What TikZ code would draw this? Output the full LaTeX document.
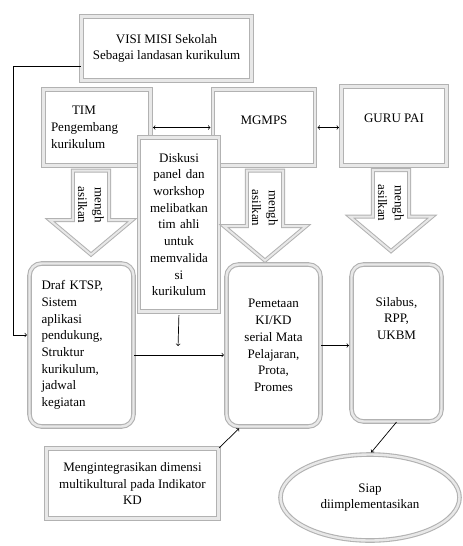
\documentclass[tikz,border=0pt]{standalone}
\usepackage{fontspec}
\setmainfont{Liberation Serif}
\usetikzlibrary{shapes.geometric,shapes.arrows}
\tikzstyle{frame} = [rectangle, draw=gray!60, double=gray!18, double distance=2.4pt,
                 line width=1.1pt, fill=white, align=center, inner sep=2pt]
\tikzstyle{rframe} = [frame, rounded corners=12pt]
\tikzstyle{hasil} = [single arrow, draw=gray!60, double=gray!18, double distance=2pt,
                 line width=1pt, fill=white, rotate=-90, align=center,
                 inner xsep=1pt, inner ysep=4pt, minimum width=82pt,
                 single arrow head extend=22pt, single arrow tip angle=100]
\tikzstyle{link} = [->, line width=0.7pt, shorten >=2pt]

\begin{document}
\begin{tikzpicture}[x=1pt, y=-1pt, font=\fontsize{13}{16.7}\selectfont]
\useasboundingbox (0,0) rectangle (463,546);

\node [frame, minimum width=170pt, minimum height=64pt] at (166.5,48.5) (visi)
	{VISI MISI Sekolah\\Sebagai landasan kurikulum};
\node [frame, minimum width=107pt, minimum height=76pt, text width=92pt, align=left]
	at (97,127.5) (tim) {\hspace*{21pt}TIM\\Pengembang\\kurikulum};
\node [frame, minimum width=102pt, minimum height=76pt, text height=10pt, text depth=17pt]
	at (264,127.5) (mgmps) {MGMPS};
\node [frame, minimum width=105pt, minimum height=79pt, text height=10pt, text depth=17pt]
	at (394,126) (guru) {GURU PAI};
\node [frame, minimum width=79pt, minimum height=174pt, text width=76pt]
	at (179,224.5) (diskusi)
	{Diskusi\\panel dan\\workshop\\melibatkan\\tim ahli\\untuk\\memvalida\\si\\kurikulum};

% hasil
\node [hasil, minimum height=84pt] at (91,205) (h1) {mengh\\asilkan};
\node [hasil, minimum height=90pt] at (265,208) (h2) {mengh\\asilkan};
\node [hasil, minimum height=81pt] at (391,203) (h3) {mengh\\asilkan};

\node [rframe, minimum width=104pt, minimum height=163pt, text width=80pt, align=left]
	at (81.5,345) (draf)
	{Draf KTSP,\\Sistem\\aplikasi\\pendukung,\\Struktur\\kurikulum,\\jadwal\\kegiatan};
\node [rframe, minimum width=94pt, minimum height=162pt] at (273.5,345.5) (pemetaan)
	{Pemetaan\\KI/KD\\serial Mata\\Pelajaran,\\Prota,\\Promes};
\node [rframe, minimum width=90pt, minimum height=157pt] at (396.5,343) (silabus)
	{\parbox[c][92pt][t]{80pt}{\centering Silabus,\\RPP,\\UKBM}};
\node [frame, minimum width=172pt, minimum height=70pt] at (132.5,483.5) (mengint)
	{Mengintegrasikan dimensi\\multikultural pada Indikator\\KD};
\node [ellipse, draw=gray!60, double=gray!18, double distance=2.4pt, line width=1.1pt,
	fill=white, align=center, inner sep=0pt, minimum width=179pt, minimum height=86pt]
	at (370,497.5) (siap) {Siap\\diimplementasikan};

\coordinate (dsk) at (178,348);

\draw [link] ([yshift=-18pt]visi.west) -- ++(-68,0) |- ([yshift=10pt]draf.west);
\draw [link, <->, shorten <=2pt] (tim.east) -- (mgmps.west);
\draw [link, <->, shorten <=2pt] (mgmps.east) -- (mgmps.east -| guru.west);
\draw [link, shorten <=3pt] (diskusi.south) -- (dsk);
\draw [link] ([yshift=-10pt]draf.east) -- ([yshift=-10pt]draf.east -| pemetaan.west);
\draw [link] (pemetaan.east) -- (pemetaan.east -| silabus.west);
\draw [link] (mengint.north east) -- ([xshift=-33pt]pemetaan.south);
\draw [link] (silabus.south) -- (siap.north);

\end{tikzpicture}
\end{document}
